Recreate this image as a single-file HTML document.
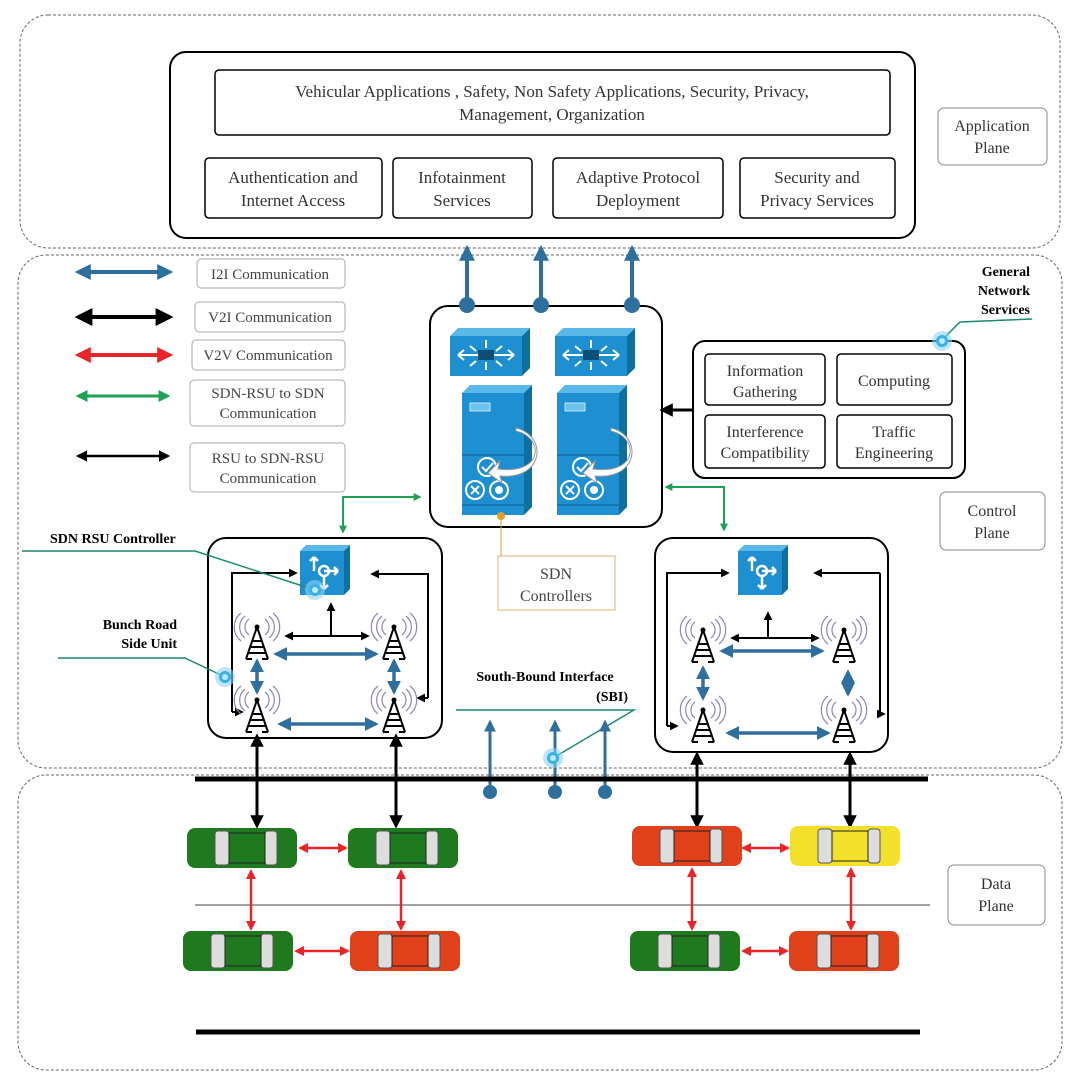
<!DOCTYPE html>
<html><head><meta charset="utf-8"><style>
html,body{margin:0;padding:0;background:#fff}
svg{display:block;font-family:"Liberation Serif",serif}
</style></head><body>
<svg width="1073" height="1086" viewBox="0 0 1073 1086" xmlns="http://www.w3.org/2000/svg">
<defs>
<marker id="ab" viewBox="0 0 10 10" refX="8" refY="5" markerWidth="4" markerHeight="4" orient="auto-start-reverse"><path d="M0,0L10,5L0,10z" fill="#2e6f9e"/></marker>
<marker id="ak" viewBox="0 0 10 10" refX="8" refY="5" markerWidth="4.5" markerHeight="4.5" orient="auto-start-reverse"><path d="M0,0L10,5L0,10z" fill="#000"/></marker>
<marker id="ak2" viewBox="0 0 10 10" refX="8" refY="5" markerWidth="7" markerHeight="7" orient="auto-start-reverse"><path d="M0,0L10,5L0,10z" fill="#000"/></marker>
<marker id="ar" viewBox="0 0 10 10" refX="8" refY="5" markerWidth="4" markerHeight="4" orient="auto-start-reverse"><path d="M0,0L10,5L0,10z" fill="#e8262a"/></marker>
<marker id="ag" viewBox="0 0 10 10" refX="8" refY="5" markerWidth="4" markerHeight="4" orient="auto-start-reverse"><path d="M0,0L10,5L0,10z" fill="#1fa055"/></marker>
<g id="tower">
<g fill="none" stroke="#8a86b8" stroke-width="1.2">
<path d="M-8,-18a10,10 0 0 0 0,16"/><path d="M-12,-21a14,14 0 0 0 0,22"/><path d="M-16,-24a18,18 0 0 0 0,28"/>
<path d="M8,-18a10,10 0 0 1 0,16"/><path d="M12,-21a14,14 0 0 1 0,22"/><path d="M16,-24a18,18 0 0 1 0,28"/>
</g>
<circle cx="0" cy="-10" r="2.5" fill="#000"/>
<path d="M0,-10L-11,22M0,-10L11,22M-4,4H4M-6,10H6M-8,16H8M-11,22H-5M5,22H11" stroke="#000" stroke-width="2" fill="none"/>
</g>
<g id="car">
<rect x="0" y="0" width="110" height="40" rx="8"/>
<rect x="28" y="3" width="14" height="34" rx="3" fill="#ddd" stroke="#555"/>
<rect x="78" y="3" width="12" height="34" rx="3" fill="#ddd" stroke="#555"/>
<rect x="42" y="5" width="36" height="30" fill-opacity="0" stroke="#222" stroke-width="1"/>
</g>
<g id="router">
<path d="M0,8L8,0H80L72,8z" fill="#5ab8e8"/><path d="M72,8L80,0V40L72,48z" fill="#0f6f9f"/>
<rect x="0" y="8" width="72" height="40" fill="#1e8fd0"/>
<rect x="28" y="22" width="16" height="10" fill="#0b4f75"/>
<g stroke="#fff" stroke-width="2"><path d="M28,27H8M44,27H64M8,27l6,-5M8,27l6,5M64,27l-6,-5M64,27l-6,5M36,12v8M36,42v-8M20,18l6,5M52,18l-6,5M20,38l6,-5M52,38l-6,-5"/></g>
</g>
<g id="server">
<path d="M0,8L8,0H70L62,8z" fill="#5ab8e8"/><path d="M62,8L70,0V122L62,130z" fill="#0f6f9f"/>
<rect x="0" y="8" width="62" height="122" fill="#1e8fd0"/>
<line x1="0" y1="70" x2="62" y2="70" stroke="#0b5c8a"/><line x1="0" y1="120" x2="62" y2="120" stroke="#0b5c8a"/>
<rect x="8" y="18" width="20" height="8" fill="#6cc3ee" stroke="#bfe6f8"/>
<g fill="none" stroke="#fff" stroke-width="2"><circle cx="25" cy="82" r="9"/><path d="M20,82l4,4l7,-8"/><circle cx="13" cy="105" r="9"/><path d="M9,101l8,8M17,101l-8,8"/><circle cx="37" cy="105" r="9"/></g>
<circle cx="37" cy="105" r="4" fill="#fff"/>
<path d="M54,46c28,6 28,44 -18,38l2,-8l-12,12l14,10l-2,-7c44,4 48,-40 16,-48z" fill="#fff" stroke="#999"/>
</g>
<g id="rsuctl">
<path d="M0,6L6,0H50L44,6z" fill="#5ab8e8"/><path d="M44,6L50,0V44L44,50z" fill="#0f6f9f"/>
<rect x="0" y="6" width="44" height="44" fill="#1e8fd0"/>
<g stroke="#fff" stroke-width="2.5" fill="none"><circle cx="24" cy="26" r="5"/><path d="M14,26V12M14,12l-4,4M14,12l4,4M24,26H38M38,26l-4,-4M38,26l-4,4M24,31V44M24,44l-4,-4M24,44l4,-4"/></g>
</g>
<g id="glow"><circle r="10" fill="#8fd3f5" opacity="0.6"/><circle r="6" fill="#3ab0ea"/><circle r="3" fill="#bfe9ff"/></g>
</defs>

<!-- plane backgrounds -->
<rect x="20" y="15" width="1040" height="233" rx="28" fill="none" stroke="#666" stroke-dasharray="3,2"/>
<rect x="18" y="255" width="1044" height="513" rx="28" fill="none" stroke="#666" stroke-dasharray="3,2"/>
<rect x="18" y="775" width="1044" height="295" rx="28" fill="none" stroke="#666" stroke-dasharray="3,2"/>

<!-- application plane -->
<rect x="170" y="52" width="745" height="186" rx="16" fill="#fff" stroke="#000" stroke-width="2"/>
<rect x="215" y="70" width="675" height="65" rx="4" fill="#fff" stroke="#000" stroke-width="1.5"/>
<text x="552" y="97" font-size="17" text-anchor="middle" fill="#333">Vehicular Applications , Safety, Non Safety Applications, Security, Privacy,</text>
<text x="552" y="120" font-size="17" text-anchor="middle" fill="#333">Management, Organization</text>
<g fill="#fff" stroke="#000" stroke-width="1.5">
<rect x="205" y="158" width="177" height="60" rx="4"/><rect x="393" y="158" width="139" height="60" rx="4"/>
<rect x="553" y="158" width="170" height="60" rx="4"/><rect x="740" y="158" width="155" height="60" rx="4"/></g>
<g font-size="17" text-anchor="middle" fill="#333">
<text x="293" y="183">Authentication and</text><text x="293" y="206">Internet Access</text>
<text x="462" y="183">Infotainment</text><text x="462" y="206">Services</text>
<text x="638" y="183">Adaptive Protocol</text><text x="638" y="206">Deployment</text>
<text x="817" y="183">Security and</text><text x="817" y="206">Privacy Services</text>
</g>
<rect x="938" y="108" width="109" height="57" rx="6" fill="#fff" stroke="#888"/>
<text x="992" y="131" font-size="16" text-anchor="middle" fill="#333">Application</text>
<text x="992" y="153" font-size="16" text-anchor="middle" fill="#333">Plane</text>

<!-- legend -->
<line x1="78" y1="272" x2="170" y2="272" stroke="#2e6f9e" stroke-width="4" marker-start="url(#ab)" marker-end="url(#ab)"/>
<line x1="78" y1="317" x2="170" y2="317" stroke="#000" stroke-width="4" marker-start="url(#ak)" marker-end="url(#ak)"/>
<line x1="78" y1="355" x2="170" y2="355" stroke="#e8262a" stroke-width="4" marker-start="url(#ar)" marker-end="url(#ar)"/>
<line x1="78" y1="396" x2="168" y2="396" stroke="#1fa055" stroke-width="3" marker-start="url(#ag)" marker-end="url(#ag)"/>
<line x1="78" y1="456" x2="168" y2="456" stroke="#000" stroke-width="2.5" marker-start="url(#ak)" marker-end="url(#ak)"/>
<g fill="#fff" stroke="#aaa">
<rect x="197" y="259" width="148" height="29" rx="4"/><rect x="195" y="302" width="150" height="30" rx="4"/>
<rect x="192" y="340" width="153" height="30" rx="4"/><rect x="190" y="380" width="155" height="46" rx="4"/>
<rect x="190" y="443" width="155" height="49" rx="4"/></g>
<g font-size="15" text-anchor="middle" fill="#444">
<text x="270" y="279">I2I Communication</text><text x="270" y="322">V2I Communication</text>
<text x="268" y="360">V2V Communication</text><text x="268" y="398">SDN-RSU to SDN</text><text x="268" y="418">Communication</text>
<text x="268" y="463">RSU to SDN-RSU</text><text x="268" y="483">Communication</text></g>

<!-- controller -->
<rect x="430" y="306" width="232" height="221" rx="18" fill="#fff" stroke="#000" stroke-width="2"/>
<g stroke="#2e6f9e" stroke-width="4"><line x1="467" y1="300" x2="467" y2="248" marker-end="url(#ab)"/><line x1="541" y1="300" x2="541" y2="248" marker-end="url(#ab)"/><line x1="632" y1="300" x2="632" y2="248" marker-end="url(#ab)"/></g>
<g fill="#2e6f9e"><circle cx="467" cy="305" r="8"/><circle cx="541" cy="305" r="8"/><circle cx="632" cy="305" r="8"/></g>
<use href="#router" x="450" y="328"/><use href="#router" x="555" y="328"/>
<use href="#server" x="462" y="385"/><use href="#server" x="557" y="385"/>
<circle cx="501" cy="516" r="4" fill="#e0a020"/>
<path d="M501,516V556" stroke="#e0a020"/>
<rect x="498" y="556" width="117" height="54" fill="#fff" stroke="#e6b070"/>
<text x="556" y="579" font-size="16" text-anchor="middle" fill="#444">SDN</text>
<text x="556" y="601" font-size="16" text-anchor="middle" fill="#444">Controllers</text>

<!-- general network services -->
<text x="1030" y="276" font-size="14" font-weight="bold" text-anchor="end">General</text>
<text x="1030" y="295" font-size="14" font-weight="bold" text-anchor="end">Network</text>
<text x="1030" y="314" font-size="14" font-weight="bold" text-anchor="end">Services</text>
<path d="M1032,319L960,322L942,340" stroke="#1a8a70" stroke-width="1.5" fill="none"/>
<rect x="693" y="341" width="272" height="137" rx="12" fill="#fff" stroke="#000" stroke-width="2"/>
<use href="#glow" x="942" y="341"/>
<g fill="#fff" stroke="#000" stroke-width="1.5"><rect x="705" y="354" width="120" height="51" rx="4"/><rect x="837" y="354" width="115" height="51" rx="4"/><rect x="705" y="415" width="120" height="53" rx="4"/><rect x="837" y="415" width="115" height="53" rx="4"/></g>
<g font-size="16" text-anchor="middle" fill="#333">
<text x="765" y="376">Information</text><text x="765" y="397">Gathering</text>
<text x="894" y="386">Computing</text>
<text x="765" y="437">Interference</text><text x="765" y="458">Compatibility</text>
<text x="894" y="437">Traffic</text><text x="894" y="458">Engineering</text></g>
<line x1="693" y1="410" x2="662" y2="410" stroke="#000" stroke-width="3" marker-end="url(#ak)"/>
<rect x="940" y="492" width="105" height="58" rx="6" fill="#fff" stroke="#888"/>
<text x="992" y="516" font-size="16" text-anchor="middle" fill="#333">Control</text>
<text x="992" y="538" font-size="16" text-anchor="middle" fill="#333">Plane</text>

<!-- green arrows -->
<path d="M343,532V497H420" stroke="#1fa055" stroke-width="2" fill="none" marker-start="url(#ag)" marker-end="url(#ag)"/>
<path d="M666,487H724V530" stroke="#1fa055" stroke-width="2" fill="none" marker-start="url(#ag)" marker-end="url(#ag)"/>

<!-- left RSU group -->
<rect x="208" y="538" width="234" height="200" rx="18" fill="#fff" stroke="#000" stroke-width="2"/>
<use href="#rsuctl" x="300" y="545"/>
<g stroke="#000" stroke-width="2" fill="none">
<path d="M232,712V573H296" marker-end="url(#ak)"/><path d="M428,698V574H372" marker-end="url(#ak)"/>
<path d="M232,712H242" marker-end="url(#ak)"/><path d="M428,698H418" marker-end="url(#ak)"/>
<path d="M286,636H368" marker-start="url(#ak)" marker-end="url(#ak)"/><path d="M331,636V604" marker-end="url(#ak)"/>
</g>
<use href="#tower" x="257" y="637"/><use href="#tower" x="394" y="637"/>
<use href="#tower" x="257" y="710"/><use href="#tower" x="394" y="710"/>
<g stroke="#2e6f9e" stroke-width="3.5">
<line x1="276" y1="654" x2="376" y2="654" marker-start="url(#ab)" marker-end="url(#ab)"/>
<line x1="280" y1="724" x2="376" y2="724" marker-start="url(#ab)" marker-end="url(#ab)"/>
<line x1="257" y1="661" x2="257" y2="692" marker-start="url(#ab)" marker-end="url(#ab)"/>
<line x1="394" y1="661" x2="394" y2="692" marker-start="url(#ab)" marker-end="url(#ab)"/>
</g>
<text x="50" y="543" font-size="14" font-weight="bold">SDN RSU Controller</text>
<path d="M22,551H195L315,590" stroke="#1a8a70" stroke-width="1.5" fill="none"/>
<use href="#glow" x="315" y="590"/>
<text x="177" y="629" font-size="14" font-weight="bold" text-anchor="end">Bunch Road</text>
<text x="177" y="648" font-size="14" font-weight="bold" text-anchor="end">Side Unit</text>
<path d="M58,658H185L225,677" stroke="#1a8a70" stroke-width="1.5" fill="none"/>
<use href="#glow" x="225" y="677"/>

<!-- right RSU group -->
<rect x="655" y="538" width="233" height="214" rx="18" fill="#fff" stroke="#000" stroke-width="2"/>
<use href="#rsuctl" x="738" y="545"/>
<g stroke="#000" stroke-width="2" fill="none">
<path d="M667,726V573H728" marker-end="url(#ak)"/><path d="M880,573V714" /><path d="M880,573H815" marker-end="url(#ak)"/>
<path d="M667,726H677" marker-end="url(#ak)"/><path d="M880,714H884" marker-end="url(#ak)"/>
<path d="M732,638H818" marker-start="url(#ak)" marker-end="url(#ak)"/><path d="M768,638V613" marker-end="url(#ak)"/>
</g>
<use href="#tower" x="703" y="640"/><use href="#tower" x="844" y="640"/>
<use href="#tower" x="703" y="720"/><use href="#tower" x="844" y="720"/>
<g stroke="#2e6f9e" stroke-width="3.5">
<line x1="722" y1="651" x2="822" y2="651" marker-start="url(#ab)" marker-end="url(#ab)"/>
<line x1="728" y1="733" x2="828" y2="733" marker-start="url(#ab)" marker-end="url(#ab)"/>
<line x1="703" y1="668" x2="703" y2="698" marker-start="url(#ab)" marker-end="url(#ab)"/>
<line x1="848" y1="672" x2="848" y2="694" marker-start="url(#ab)" marker-end="url(#ab)"/>
</g>

<!-- SBI -->
<text x="545" y="681" font-size="14" font-weight="bold" text-anchor="middle">South-Bound Interface</text>
<text x="628" y="701" font-size="14" font-weight="bold" text-anchor="end">(SBI)</text>
<path d="M456,710H634L553,758" stroke="#1a8a70" stroke-width="1.5" fill="none"/>
<g stroke="#2e6f9e" stroke-width="3"><line x1="490" y1="790" x2="490" y2="722" marker-end="url(#ab)"/><line x1="555" y1="790" x2="555" y2="722" marker-end="url(#ab)"/><line x1="605" y1="790" x2="605" y2="722" marker-end="url(#ab)"/></g>
<use href="#glow" x="553" y="758"/>

<!-- data plane -->
<line x1="195" y1="779" x2="928" y2="779" stroke="#000" stroke-width="5"/>
<line x1="196" y1="1032" x2="920" y2="1032" stroke="#000" stroke-width="5"/>
<line x1="195" y1="905" x2="930" y2="905" stroke="#444" stroke-width="1"/>
<g fill="#2e6f9e"><circle cx="490" cy="792" r="7"/><circle cx="555" cy="792" r="7"/><circle cx="605" cy="792" r="7"/></g>
<g stroke="#000" stroke-width="3">
<line x1="257" y1="736" x2="257" y2="826" marker-start="url(#ak)" marker-end="url(#ak)"/>
<line x1="396" y1="736" x2="396" y2="826" marker-start="url(#ak)" marker-end="url(#ak)"/>
<line x1="697" y1="754" x2="697" y2="826" marker-start="url(#ak)" marker-end="url(#ak)"/>
<line x1="850" y1="754" x2="850" y2="826" marker-start="url(#ak)" marker-end="url(#ak)"/>
</g>
<use href="#car" x="187" y="828" fill="#1f7a1f"/><use href="#car" x="348" y="828" fill="#1f7a1f"/>
<use href="#car" x="632" y="826" fill="#e0401a"/><use href="#car" x="790" y="826" fill="#f2e02a"/>
<use href="#car" x="183" y="931" fill="#1f7a1f"/><use href="#car" x="350" y="931" fill="#e0401a"/>
<use href="#car" x="630" y="931" fill="#1f7a1f"/><use href="#car" x="789" y="931" fill="#e0401a"/>
<g stroke="#e8262a" stroke-width="2.5">
<line x1="300" y1="848" x2="346" y2="848" marker-start="url(#ar)" marker-end="url(#ar)"/>
<line x1="743" y1="848" x2="788" y2="848" marker-start="url(#ar)" marker-end="url(#ar)"/>
<line x1="296" y1="951" x2="348" y2="951" marker-start="url(#ar)" marker-end="url(#ar)"/>
<line x1="743" y1="951" x2="787" y2="951" marker-start="url(#ar)" marker-end="url(#ar)"/>
<line x1="251" y1="871" x2="251" y2="929" marker-start="url(#ar)" marker-end="url(#ar)"/>
<line x1="401" y1="871" x2="401" y2="929" marker-start="url(#ar)" marker-end="url(#ar)"/>
<line x1="692" y1="869" x2="692" y2="929" marker-start="url(#ar)" marker-end="url(#ar)"/>
<line x1="851" y1="869" x2="851" y2="929" marker-start="url(#ar)" marker-end="url(#ar)"/>
</g>
<rect x="948" y="865" width="97" height="60" rx="6" fill="#fff" stroke="#888"/>
<text x="996" y="889" font-size="16" text-anchor="middle" fill="#333">Data</text>
<text x="996" y="911" font-size="16" text-anchor="middle" fill="#333">Plane</text>
</svg>
</body></html>
